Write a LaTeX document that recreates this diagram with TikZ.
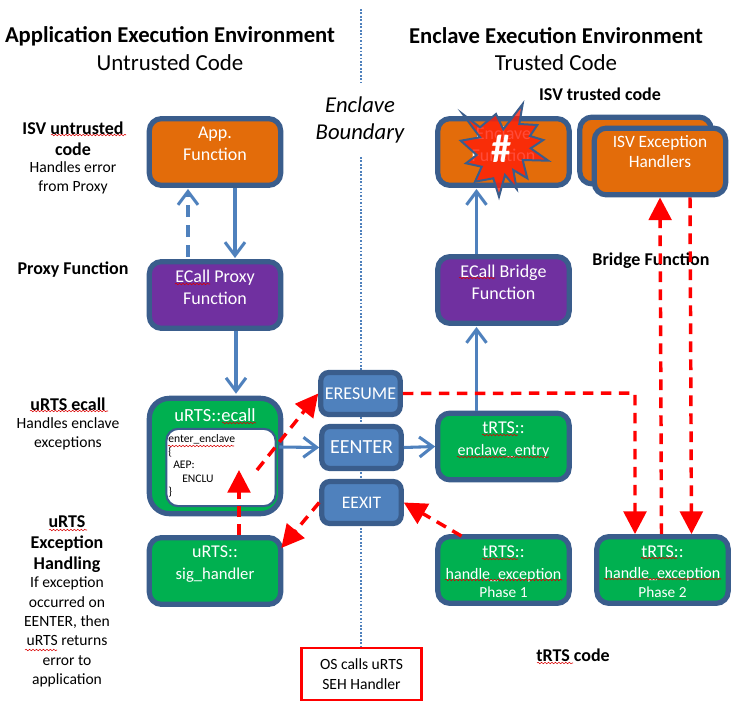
\documentclass[tikz,border=0pt]{standalone}
\usepackage{fontspec}
\setmainfont{Carlito}
\usetikzlibrary{arrows.meta,calc,decorations.pathmorphing}
\definecolor{rim}{HTML}{3A5D8C}
\definecolor{orangefill}{HTML}{E36C0A}
\definecolor{purplefill}{HTML}{7030A0}
\definecolor{greenfill}{HTML}{00B050}
\definecolor{bluefill}{HTML}{4F81BD}
\definecolor{link}{HTML}{4F81BD}
\definecolor{starred}{HTML}{FF1E08}
\newcommand{\dn}[1]{\rule[-#1pt]{0pt}{0pt}}
\tikzset{
  x=0.75pt,y=-0.75pt,
  box/.style={draw=rim,line width=3.9pt,rounded corners=9pt,text=white,align=center,font=\fontsize{13.5pt}{16.5pt}\selectfont,inner sep=0pt},
  widebox/.style={box,minimum width=98.5pt,minimum height=50pt},
  insn/.style={box,minimum width=59.5pt,minimum height=31.5pt,rounded corners=6pt,fill=bluefill},
  bluearrow/.style={draw=link,line width=2.3pt,-{Straight Barb[length=10pt,width=15pt,line width=2.3pt]}},
  bluedash/.style={bluearrow,dash pattern=on 9pt off 6pt},
  redarrow/.style={draw=red,line width=2.6pt,dash pattern=on 8pt off 5.5pt,-{Triangle[length=17pt,width=17pt,fill=red]}},
  capb/.style={align=center,font=\fontsize{13.5pt}{15.75pt}\selectfont\bfseries,inner sep=0pt},
  capn/.style={align=center,font=\fontsize{11.7pt}{14.5pt}\selectfont,inner sep=0pt},
  squig/.style={draw=red!85!black,line width=0.4pt,decorate,decoration={snake,amplitude=0.55pt,segment length=2.6pt}},
}
\begin{document}
\begin{tikzpicture}
\useasboundingbox (0,0) rectangle (746,728);
% boundary
\coordinate (bt1) at (361,9); \coordinate (bt2) at (361,82);
\coordinate (bb1) at (361,157); \coordinate (bb2) at (361,647);
\draw[link,line width=1.5pt,dash pattern=on 1.3pt off 1.3pt] (bt1)--(bt2);
\draw[link,line width=1.5pt,dash pattern=on 1.3pt off 1.3pt] (bb1)--(bb2);
% headings
\node[font=\fontsize{17pt}{20pt}\selectfont\bfseries,inner sep=0pt] (h1) at (170,36) {Application Execution Environment};
\node[font=\fontsize{17.2pt}{20pt}\selectfont,inner sep=0pt] (h1b) at (170,63) {Untrusted Code};
\node[font=\fontsize{17pt}{20pt}\selectfont\bfseries,inner sep=0pt] (h2) at (556,36) {Enclave Execution Environment};
\node[font=\fontsize{17.2pt}{20pt}\selectfont,inner sep=0pt] (h2b) at (556,63) {Trusted Code};
\node[font=\fontsize{17pt}{20.5pt}\selectfont\itshape,align=center,inner sep=0pt] (bnd) at (360,120) {Enclave\\Boundary};
% boxes
\node[widebox,fill=orangefill] (app) at (215,152) {App.\\Function\dn{12}};
\node[widebox,fill=purplefill] (proxy) at (215,295) {ECall Proxy\\Function\dn{12}};
\node[box,fill=greenfill,minimum width=98.5pt,minimum height=86.5pt,rounded corners=15pt] (ecall) at (215,456) {};
\node[font=\fontsize{13.9pt}{15pt}\selectfont,text=white,inner sep=0pt] (ecallt) at (215,415) {uRTS::ecall};
\node[draw=rim,line width=1.6pt,fill=white,rounded corners=9pt,minimum width=82pt,minimum height=58pt,inner sep=0pt] (white) at (221,467.5) {};
\node[anchor=north west,align=left,inner sep=0pt,font=\fontsize{8.7pt}{10pt}\selectfont] (code) at (168,434) {enter\_enclave\\\{\\\hspace*{3.75pt}AEP:\\\hspace*{10.5pt}ENCLU\\\}};
\node[widebox,fill=greenfill,font=\fontsize{12.5pt}{16.5pt}\selectfont] (sig) at (215,571) {{\fontsize{13.5pt}{16.5pt}\selectfont uRTS::}\\sig\_handler\dn{12}};
\node[insn] (eresume) at (360.5,393.5) {\fontsize{13.5pt}{15pt}\selectfont ERESUME};
\node[insn] (eenter) at (361.5,447.5) {\fontsize{15pt}{18pt}\selectfont EENTER};
\node[insn] (eexit) at (361.5,502.5) {\fontsize{13.2pt}{15pt}\selectfont EEXIT};
\node[widebox,fill=orangefill] (encf) at (503.5,152) {Enclave\\Function\dn{12}};
\node[widebox,fill=purplefill] (bridge) at (503.5,290) {ECall Bridge\\Function\dn{12}};
\node[widebox,fill=greenfill,font=\fontsize{12pt}{16.5pt}\selectfont] (entry) at (503.5,446.5) {{\fontsize{13.5pt}{16.5pt}\selectfont tRTS::}\\enclave\_entry\dn{12}};
\node[widebox,fill=greenfill,font=\fontsize{12pt}{16pt}\selectfont] (he1) at (503.5,570) {\rule{0pt}{12pt}{\fontsize{13.5pt}{16pt}\selectfont tRTS::}\\handle\_exception\\[-2pt]{\fontsize{11.5pt}{14pt}\selectfont Phase 1}};
\node[widebox,fill=greenfill,font=\fontsize{12pt}{16pt}\selectfont] (he2) at (662.5,570) {\rule{0pt}{11pt}{\fontsize{13.5pt}{16pt}\selectfont tRTS::}\\handle\_exception\\[-2pt]{\fontsize{11.5pt}{14pt}\selectfont Phase 2}};
\node[widebox,fill=orangefill] (isvb) at (645.5,150.5) {};
\node[widebox,fill=orangefill,font=\fontsize{13pt}{14.5pt}\selectfont] (isvf) at (660,161.5) {ISV Exception\\Handlers\dn{15}};
% star
\fill[starred,fill opacity=0.8] (462.7,114) -- (480,127.3) -- (496,114) -- (503.3,129.3) -- (522.7,104) -- (519.3,124) -- (537.3,125) -- (530,136) -- (543.3,140) -- (530.7,148.3) -- (548.3,160.7) -- (522.7,160) -- (527.3,178.3) -- (513.3,170) -- (516.7,189) -- (505,175) -- (499,196.7) -- (493.3,178.3) -- (475,181.7) -- (481.7,166.7) -- (466,163.3) -- (476.7,155) -- (460.7,140.7) -- (480,137.3) -- cycle;
\draw[rim,line width=1.5pt,line join=miter] (462.7,114) -- (480,127.3) -- (496,114) -- (503.3,129.3) -- (522.7,104) -- (519.3,124) -- (537.3,125) -- (530,136) -- (543.3,140) -- (530.7,148.3) -- (548.3,160.7) -- (522.7,160) -- (527.3,178.3) -- (513.3,170) -- (516.7,189) -- (505,175) -- (499,196.7) -- (493.3,178.3) -- (475,181.7) -- (481.7,166.7) -- (466,163.3) -- (476.7,155) -- (460.7,140.7) -- (480,137.3) -- cycle;
\node[text=white,font=\fontsize{30pt}{32pt}\selectfont\bfseries,inner sep=0pt] (hash) at (501,149) {\#};
% captions
\node[capb] (c1) at (73,139) {ISV untrusted\\code};
\node[capn] (c1b) at (73,178) {Handles error\\from Proxy};
\node[capb] (c2) at (73,270) {Proxy Function};
\node[capb] (c3) at (68,404) {uRTS ecall};
\node[capn] (c3b) at (68,434) {Handles enclave\\exceptions};
\node[capb] (c4) at (67,544) {uRTS\\Exception\\Handling};
\node[capn] (c4b) at (67,632) {If exception\\occurred on\\EENTER, then\\uRTS returns\\error to\\application};
\node[capb] (c5) at (600,94) {ISV trusted code};
\node[capb] (c6) at (651,261) {Bridge Function};
\node[capb] (c7) at (573,655) {tRTS code};
\node[draw=red,line width=1.6pt,minimum width=90pt,minimum height=39.5pt,align=center,inner sep=0pt,font=\fontsize{11.7pt}{14.5pt}\selectfont] (os) at (361.5,674) {OS calls uRTS\\SEH Handler};
% blue connectors
\draw[bluearrow] ($(app.south)+(20,0)$) -- ($(proxy.north)+(20,-1)$);
\draw[bluedash] ($(proxy.north)+(-27,-2)$) -- ($(app.south)+(-27,1)$);
\draw[bluearrow] ($(proxy.south)+(21,0)$) -- ($(ecall.north)+(21,-2)$);
\draw[bluearrow] ($(ecall.east)+(-4,-9)$) -- (eenter.west);
\draw[bluearrow] (eenter.east) -- (entry.west);
\draw[bluearrow] ($(entry.north)+(-27,0)$) -- ($(bridge.south)+(-27,1)$);
\draw[bluearrow] ($(bridge.north)+(-27,0)$) -- ($(encf.south)+(-27,1)$);
% red connectors
\coordinate (turn) at (635,393);
\coordinate (fromecall) at (257,470);
\draw[redarrow] (sig.north -| 239,0) -- (239,470);
\draw[redarrow] (fromecall) -- (eresume.west);
\draw[redarrow] ($(eexit.west)+(0,0)$) -- ($(sig.east)+(-2,-23)$);
\draw[redarrow] ($(he1.north)+(-42,2)$) -- ($(eexit.east)+(0,0)$);
\draw[redarrow,rounded corners=0pt] (eresume.east) -- (turn) -- (turn |- he2.north);
\draw[redarrow] ($(he2.north)+(-1,0)$) -- ($(isvf.south)+(0,0)$);
\draw[redarrow] ($(isvf.south)+(30,0)$) -- ($(he2.north)+(29,0)$);
% spelling marks
\draw[squig] (51,135) -- (126,135);
\draw[squig] (175,284) -- (210,284);
\draw[squig] (459,278) -- (495,278);
\draw[squig] (30,411) -- (108,411);
\draw[squig] (49,530) -- (87,530);
\draw[squig] (25,650) -- (57,650);
\draw[squig] (222,423) -- (256,423);
\draw[squig] (168,446) -- (234,446);
\draw[squig] (482,435) -- (518,435);
\draw[squig] (457,457) -- (549,457);
\draw[squig] (482,559) -- (518,559);
\draw[squig] (445,580) -- (562,580);
\draw[squig] (641,558) -- (677,558);
\draw[squig] (604,579) -- (721,579);
\draw[squig] (537,663) -- (573,663);
\end{tikzpicture}
\end{document}
